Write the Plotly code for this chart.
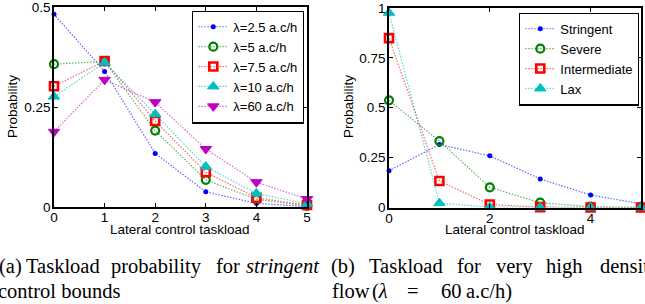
import plotly.graph_objects as go

# ---------------- data ----------------
taskload = [0, 1, 2, 3, 4, 5]

# (a) stringent control bounds, different traffic rates
lam_names = ["λ=2.5 a.c/h", "λ=5 a.c/h", "λ=7.5 a.c/h", "λ=10 a.c/h", "λ=60 a.c/h"]
p_lam_2_5 = [0.482, 0.339, 0.134, 0.038, 0.009, 0.001]
p_lam_5 = [0.357, 0.364, 0.191, 0.068, 0.019, 0.003]
p_lam_7_5 = [0.302, 0.365, 0.215, 0.087, 0.023, 0.005]
p_lam_10 = [0.276, 0.361, 0.232, 0.101, 0.034, 0.008]
p_lam_60 = [0.188, 0.318, 0.262, 0.145, 0.062, 0.020]

# (b) lambda = 60 a.c/h, different control bounds
bound_names = ["Stringent", "Severe", "Intermediate", "Lax"]
p_stringent = [0.184, 0.316, 0.259, 0.143, 0.063, 0.018]
p_severe = [0.537, 0.333, 0.101, 0.024, 0.004, 0.001]
p_intermediate = [0.849, 0.133, 0.015, 0.002, 0.0, 0.0]
p_lax = [0.976, 0.022, 0.002, 0.0, 0.0, 0.0]

left_xticks = [0, 1, 2, 3, 4, 5]
left_yticks = [0, 0.25, 0.5]
left_yticklabels = ["0", "0.25", "0.5"]
right_xticks = [0, 2, 4]
right_yticks = [0, 0.25, 0.5, 0.75, 1]
right_yticklabels = ["0", "0.25", "0.5", "0.75", "1"]

caption_a_line1 = ["(a)", "Taskload", "probability", "for", "<i>stringent</i>"]
caption_a_line2 = ["control bounds"]
caption_b_line1 = ["(b)", "Taskload", "for", "very", "high", "densit"]
caption_b_line2 = ["flow", "(<i>λ</i>", "=", "60", "a.c/h)"]

# ---------------- styles ----------------
W, H = 645, 304
BLUE = "#0000ff"
GREEN = "#008000"
RED = "#ff0000"
CYAN = "#00bfbf"
MAG = "#bf00bf"

styles = [
    dict(symbol="circle", size=5, lw=0, lc=BLUE, fill=BLUE, line="rgba(0,0,255,0.6)"),
    dict(symbol="circle-open", size=8, lw=2.2, lc=GREEN, fill=GREEN, line="rgba(0,128,0,0.6)"),
    dict(symbol="square-open", size=8, lw=2.6, lc=RED, fill=RED, line="rgba(255,0,0,0.6)"),
    dict(symbol="triangle-up", size=10, lw=1, lc=CYAN, fill=CYAN, line="rgba(0,191,191,0.65)"),
    dict(symbol="triangle-down", size=10, lw=1, lc=MAG, fill=MAG, line="rgba(191,0,191,0.6)"),
]
DASH = "1.5px,1.5px"

fig = go.Figure()

left_series = [p_lam_2_5, p_lam_5, p_lam_7_5, p_lam_10, p_lam_60]
for name, ys, st in zip(lam_names, left_series, styles):
    fig.add_trace(go.Scatter(
        x=taskload, y=ys, name=name, mode="lines+markers", cliponaxis=False,
        xaxis="x", yaxis="y", legend="legend", legendgroup=name,
        line=dict(color=st["line"], dash=DASH, width=1.2),
        marker=dict(symbol=st["symbol"], size=st["size"], color=st["fill"],
                    line=dict(color=st["lc"], width=st["lw"])),
    ))

right_series = [p_stringent, p_severe, p_intermediate, p_lax]
for name, ys, st in zip(bound_names, right_series, styles[:4]):
    fig.add_trace(go.Scatter(
        x=taskload, y=ys, name=name, mode="lines+markers", cliponaxis=False,
        xaxis="x2", yaxis="y2", legend="legend2", legendgroup=name,
        line=dict(color=st["line"], dash=DASH, width=1.2),
        marker=dict(symbol=st["symbol"], size=st["size"], color=st["fill"],
                    line=dict(color=st["lc"], width=st["lw"])),
    ))

FONT = "Liberation Sans, Arial, sans-serif"
SERIF = "Liberation Serif, Times New Roman, serif"

def px_x(p):
    return p / W

def px_y(p):
    return (H - p) / H

axis_common = dict(showline=True, linecolor="black", linewidth=1.6, mirror="ticks",
                   ticks="inside", ticklen=4, tickwidth=1, tickcolor="black",
                   showgrid=False, zeroline=False, automargin=False,
                   ticklabeloverflow="allow",
                   tickfont=dict(family=FONT, size=13.5, color="black"))
xaxis_extra = dict(ticklabelstandoff=-3)
yaxis_extra = dict(ticklabelstandoff=-1)

legend_common = dict(xanchor="right", yanchor="top",
                     bgcolor="white", bordercolor="black", borderwidth=1.3,
                     font=dict(family=FONT, size=13, color="black"),
                     tracegroupgap=0, itemwidth=30)

fig.update_layout(
    template="none",
    width=W, height=H,
    margin=dict(l=0, r=0, t=0, b=0, pad=0, autoexpand=False),
    paper_bgcolor="white", plot_bgcolor="white",
    font=dict(family=FONT, color="black"),
    xaxis=dict(domain=[px_x(54), px_x(307)], range=[0, 5], tickvals=left_xticks,
               anchor="y", **axis_common, **xaxis_extra),
    yaxis=dict(domain=[px_y(207), px_y(7)], range=[0, 0.5], tickvals=left_yticks,
               ticktext=left_yticklabels, anchor="x", **axis_common, **yaxis_extra),
    xaxis2=dict(domain=[px_x(389), px_x(641)], range=[0, 5], tickvals=right_xticks,
                anchor="y2", **axis_common, **xaxis_extra),
    yaxis2=dict(domain=[px_y(207.5), px_y(8)], range=[0, 1], tickvals=right_yticks,
                ticktext=right_yticklabels, anchor="x2", **axis_common, **yaxis_extra),
    legend=dict(x=px_x(304), y=px_y(10.5), **legend_common),
    legend2=dict(x=px_x(639), y=px_y(12.5), **legend_common),
    showlegend=True,
)

annots = []
lab_font = dict(family=FONT, size=13.5, color="black")
# axis titles
for xc in (180.5, 515):
    annots.append(dict(text="Lateral control taskload", x=px_x(xc), y=px_y(229.5),
                       xref="paper", yref="paper", xanchor="center", yanchor="middle",
                       showarrow=False, font=lab_font))
for xc in (12, 348):
    annots.append(dict(text="Probability", x=px_x(xc), y=px_y(107), textangle=-90,
                       xref="paper", yref="paper", xanchor="center", yanchor="middle",
                       showarrow=False, font=lab_font))

# captions (justified words placed at their measured starting positions)
cap_font = dict(family=SERIF, size=20.5, color="black")
cap_rows = [
    (caption_a_line1, [-3, 24, 109, 214, 244], 266),
    (caption_a_line2, [-4], 291),
    (caption_b_line1, [329, 367, 455, 494, 544, 598], 266),
    (caption_b_line2, [330, 370, 405, 439, 464], 291),
]
for words, xs, yc in cap_rows:
    for w, xp in zip(words, xs):
        annots.append(dict(text=w, x=px_x(xp), y=px_y(yc), xref="paper", yref="paper",
                           xanchor="left", yanchor="middle", showarrow=False, font=cap_font))

fig.update_layout(annotations=annots)
fig.write_html("out.html", config={"displayModeBar": False},
               post_script="document.body.style.margin='0px';document.body.style.overflow='hidden';")
